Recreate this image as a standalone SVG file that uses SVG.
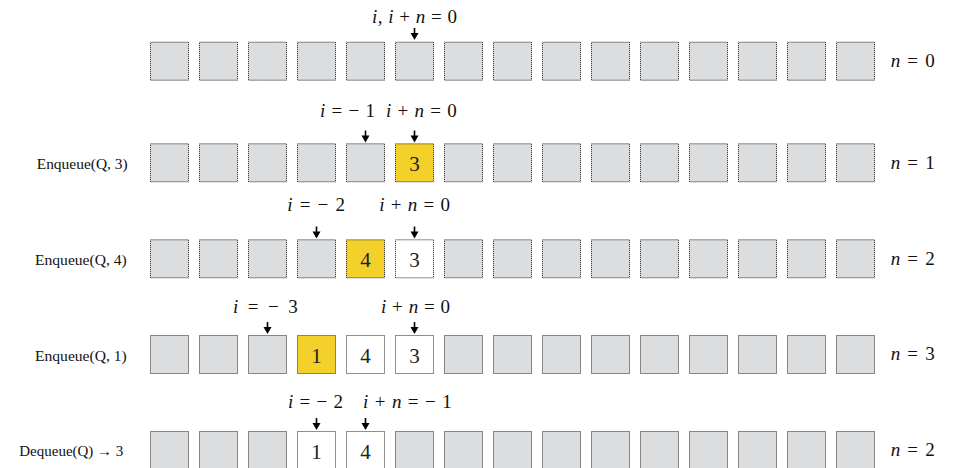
<svg xmlns="http://www.w3.org/2000/svg" width="955" height="468" viewBox="0 0 955 468">
<style>
.b{stroke:#1e1e1e;stroke-width:1;stroke-dasharray:1 1;}
.g{fill:#dcdddf;}
.y{fill:#f4d12a;}
.w{fill:#ffffff;}
.d{font-family:"Liberation Serif","Times New Roman",serif;font-size:21px;fill:#222;text-anchor:middle;}
.m{font-family:"Liberation Serif","Times New Roman",serif;font-size:19px;fill:#111;}
.m .it{font-style:italic;}
.l{font-family:"Liberation Serif","Times New Roman",serif;font-size:15px;fill:#111;}
.ar{stroke:#000;stroke-width:1.6;fill:none;}
</style>
<defs>
<g id="arrow">
<line class="ar" x1="0" y1="-12" x2="0" y2="-5"/>
<polygon points="-4,-7 4,-7 0,0" fill="#000"/>
</g>
<rect id="bg" class="b g" x="0.5" y="0.5" width="38" height="38"/>
<rect id="by" class="b y" x="0.5" y="0.5" width="38" height="38"/>
<rect id="bw" class="b w" x="0.5" y="0.5" width="38" height="38"/>
</defs>

<g id="row1">
<g transform="translate(0,41.7)">
<use href="#bg" x="150"/><use href="#bg" x="199"/><use href="#bg" x="248"/><use href="#bg" x="297"/><use href="#bg" x="346"/><use href="#bg" x="395"/><use href="#bg" x="444"/><use href="#bg" x="493"/><use href="#bg" x="542"/><use href="#bg" x="591"/><use href="#bg" x="640"/><use href="#bg" x="689"/><use href="#bg" x="738"/><use href="#bg" x="787"/><use href="#bg" x="836"/>
</g>
<text class="m" x="372" y="22.7" textLength="85" lengthAdjust="spacing"><tspan class="it">i</tspan>, <tspan class="it">i</tspan> + <tspan class="it">n</tspan> = 0</text>
<text class="m" x="890.7" y="66.7" textLength="44" lengthAdjust="spacing"><tspan class="it">n</tspan> = 0</text>
</g>

<g id="row2">
<g transform="translate(0,143.3)">
<use href="#bg" x="150"/><use href="#bg" x="199"/><use href="#bg" x="248"/><use href="#bg" x="297"/><use href="#bg" x="346"/><use href="#by" x="395"/><use href="#bg" x="444"/><use href="#bg" x="493"/><use href="#bg" x="542"/><use href="#bg" x="591"/><use href="#bg" x="640"/><use href="#bg" x="689"/><use href="#bg" x="738"/><use href="#bg" x="787"/><use href="#bg" x="836"/>
<text class="d" x="414.5" y="27.7">3</text>
</g>
<text class="l" x="36.7" y="168.5" textLength="91" lengthAdjust="spacingAndGlyphs">Enqueue(Q, 3)</text>
<text class="m" x="320" y="117.3" textLength="55" lengthAdjust="spacing"><tspan class="it">i</tspan> = − 1</text>
<text class="m" x="386" y="117.3" textLength="70.7" lengthAdjust="spacing"><tspan class="it">i</tspan> + <tspan class="it">n</tspan> = 0</text>
<text class="m" x="890.7" y="168.5" textLength="44" lengthAdjust="spacing"><tspan class="it">n</tspan> = 1</text>
</g>

<g id="row3">
<g transform="translate(0,239.3)">
<use href="#bg" x="150"/><use href="#bg" x="199"/><use href="#bg" x="248"/><use href="#bg" x="297"/><use href="#by" x="346"/><use href="#bw" x="395"/><use href="#bg" x="444"/><use href="#bg" x="493"/><use href="#bg" x="542"/><use href="#bg" x="591"/><use href="#bg" x="640"/><use href="#bg" x="689"/><use href="#bg" x="738"/><use href="#bg" x="787"/><use href="#bg" x="836"/>
<text class="d" x="365.5" y="27.7">4</text>
<text class="d" x="414.5" y="27.7">3</text>
</g>
<text class="l" x="35" y="265" textLength="91.7" lengthAdjust="spacingAndGlyphs">Enqueue(Q, 4)</text>
<text class="m" x="287.3" y="210.7" textLength="57.7" lengthAdjust="spacing"><tspan class="it">i</tspan> = − 2</text>
<text class="m" x="379.3" y="210.7" textLength="70.7" lengthAdjust="spacing"><tspan class="it">i</tspan> + <tspan class="it">n</tspan> = 0</text>
<text class="m" x="890.7" y="264.5" textLength="44" lengthAdjust="spacing"><tspan class="it">n</tspan> = 2</text>
</g>

<g id="row4">
<g transform="translate(0,335)">
<use href="#bg" x="150"/><use href="#bg" x="199"/><use href="#bg" x="248"/><use href="#by" x="297"/><use href="#bw" x="346"/><use href="#bw" x="395"/><use href="#bg" x="444"/><use href="#bg" x="493"/><use href="#bg" x="542"/><use href="#bg" x="591"/><use href="#bg" x="640"/><use href="#bg" x="689"/><use href="#bg" x="738"/><use href="#bg" x="787"/><use href="#bg" x="836"/>
<text class="d" x="316.5" y="27.7">1</text>
<text class="d" x="365.5" y="27.7">4</text>
<text class="d" x="414.5" y="27.7">3</text>
</g>
<text class="l" x="35" y="361" textLength="91.7" lengthAdjust="spacingAndGlyphs">Enqueue(Q, 1)</text>
<text class="m" x="233" y="312.7" textLength="64.7" lengthAdjust="spacing"><tspan class="it">i</tspan> = − 3</text>
<text class="m" x="381" y="312.7" textLength="69" lengthAdjust="spacing"><tspan class="it">i</tspan> + <tspan class="it">n</tspan> = 0</text>
<text class="m" x="890.7" y="360" textLength="44" lengthAdjust="spacing"><tspan class="it">n</tspan> = 3</text>
</g>

<g id="row5">
<g transform="translate(0,431)">
<use href="#bg" x="150"/><use href="#bg" x="199"/><use href="#bg" x="248"/><use href="#bw" x="297"/><use href="#bw" x="346"/><use href="#bg" x="395"/><use href="#bg" x="444"/><use href="#bg" x="493"/><use href="#bg" x="542"/><use href="#bg" x="591"/><use href="#bg" x="640"/><use href="#bg" x="689"/><use href="#bg" x="738"/><use href="#bg" x="787"/><use href="#bg" x="836"/>
<text class="d" x="316.5" y="27.7">1</text>
<text class="d" x="365.5" y="27.7">4</text>
</g>
<text class="l" x="19.3" y="456" textLength="104" lengthAdjust="spacingAndGlyphs">Dequeue(Q) → 3</text>
<text class="m" x="288" y="408.3" textLength="55" lengthAdjust="spacing"><tspan class="it">i</tspan> = − 2</text>
<text class="m" x="363" y="408.3" textLength="88.7" lengthAdjust="spacing"><tspan class="it">i</tspan> + <tspan class="it">n</tspan> = − 1</text>
<text class="m" x="890.7" y="456" textLength="44" lengthAdjust="spacing"><tspan class="it">n</tspan> = 2</text>
</g>

<g id="connectors">
<use href="#arrow" x="414.5" y="40"/>
<use href="#arrow" x="365.5" y="142.5"/>
<use href="#arrow" x="414.5" y="142.5"/>
<use href="#arrow" x="316.5" y="238.5"/>
<use href="#arrow" x="414.5" y="238.5"/>
<use href="#arrow" x="267.5" y="334"/>
<use href="#arrow" x="414.5" y="334"/>
<use href="#arrow" x="316.5" y="430"/>
<use href="#arrow" x="365.5" y="430"/>
</g>
</svg>
